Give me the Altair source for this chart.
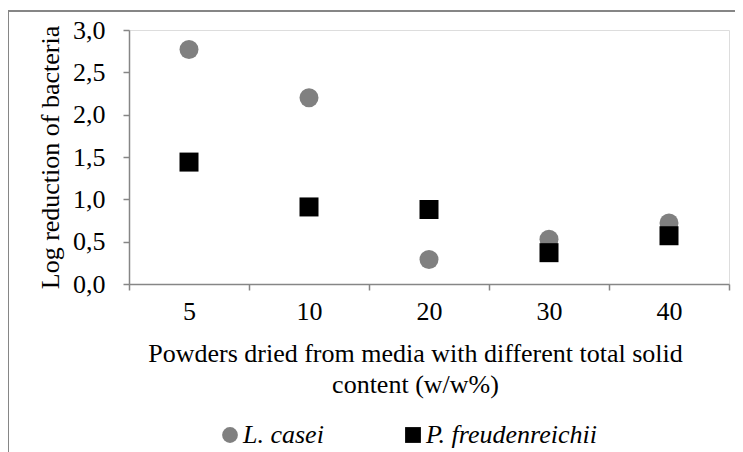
import altair as alt
import pandas as pd

categories = ["5", "10", "20", "30", "40"]
l_casei = [2.77, 2.20, 0.29, 0.53, 0.72]
p_freud = [1.44, 0.91, 0.88, 0.37, 0.57]
series_names = ["L. casei", "P. freudenreichii"]

rows = []
for c, v in zip(categories, l_casei):
    rows.append({"cat": c, "value": v, "series": series_names[0]})
for c, v in zip(categories, p_freud):
    rows.append({"cat": c, "value": v, "series": series_names[1]})
df = pd.DataFrame(rows)

FONT = "Liberation Serif"
GRAY = "#868686"
FS = 26

points = alt.Chart(df).mark_point(filled=True, opacity=1, size=361).encode(
    x=alt.X("cat:N", sort=categories,
            scale=alt.Scale(paddingInner=0, paddingOuter=0),
            axis=alt.Axis(
                title=["Powders dried from media with different total solid", "content (w/w%)"],
                labelAngle=0, tickBand="extent", tickSize=6, tickColor=GRAY,
                domainColor=GRAY, domainWidth=1.5, tickWidth=1.5,
                labelFont=FONT, labelFontSize=FS, labelColor="black", labelPadding=8,
                titleFont=FONT, titleFontSize=FS, titleFontWeight="normal",
                titleColor="black", titlePadding=16, titleX=286, titleLineHeight=31)),
    y=alt.Y("value:Q",
            scale=alt.Scale(domain=[0, 3], nice=False, zero=True),
            axis=alt.Axis(
                title="Log reduction of bacteria", values=[0, 0.5, 1, 1.5, 2, 2.5, 3],
                labelExpr="replace(format(datum.value, '.1f'), '.', ',')",
                grid=False, tickSize=6, tickColor=GRAY, domainColor=GRAY,
                domainWidth=1.5, tickWidth=1.5,
                labelFont=FONT, labelFontSize=FS, labelColor="black", labelPadding=18,
                titleFont=FONT, titleFontSize=FS, titleFontWeight="normal",
                titleColor="black", titlePadding=9)),
    color=alt.Color("series:N", sort=series_names,
                    scale=alt.Scale(domain=series_names, range=["#808080", "#000000"]),
                    legend=alt.Legend(
                        title=None, orient="none", legendX=88, legendY=392,
                        direction="horizontal", labelFont=FONT, labelFontSize=FS,
                        labelFontStyle="italic", labelColor="black", symbolSize=250,
                        labelOffset=0, columnPadding=76, symbolOpacity=1,
                        symbolStrokeWidth=0, labelLimit=0)),
    shape=alt.Shape("series:N", sort=series_names,
                    scale=alt.Scale(domain=series_names, range=["circle", "square"]),
                    legend=None),
)

frame_top = alt.Chart(df).mark_rule(color=GRAY, strokeWidth=1.5, clip=False).encode(
    x=alt.value(-121), x2=alt.value(700), y=alt.value(-19))
frame_left = alt.Chart(df).mark_rule(color=GRAY, strokeWidth=1.5, clip=False).encode(
    x=alt.value(-121), y=alt.value(-19), y2=alt.value(500))

chart = alt.layer(frame_top, frame_left, points).properties(
    width=600, height=254,
    autosize=alt.AutoSizeParams(type="none"),
    padding={"left": 121, "top": 22, "right": 6, "bottom": 168},
).configure_view(stroke=None).configure(background="white")

chart.save("out.html", embed_options={"renderer": "svg", "actions": False})
